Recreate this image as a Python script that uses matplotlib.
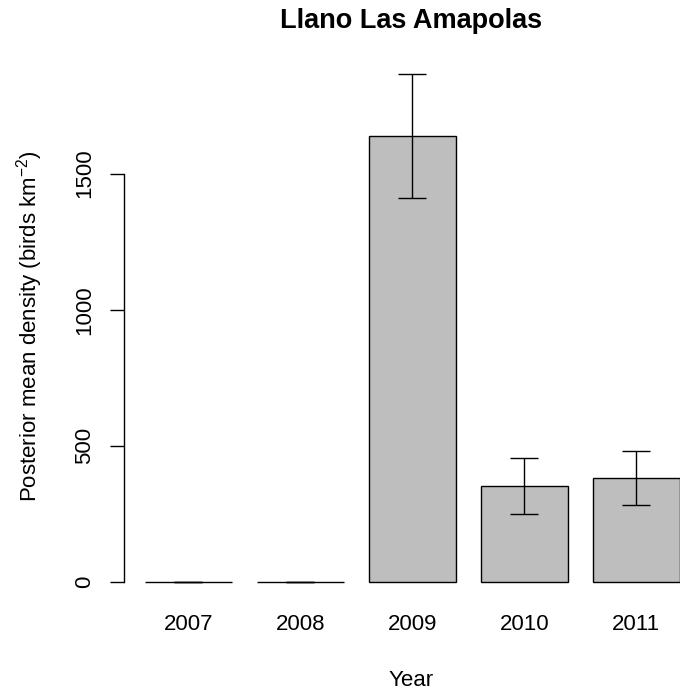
import matplotlib
matplotlib.use("Agg")
import matplotlib.pyplot as plt
import numpy as np

plt.rcParams['font.family'] = ['Liberation Sans', 'DejaVu Sans']
plt.rcParams['mathtext.fontset'] = 'custom'
plt.rcParams['mathtext.rm'] = 'Liberation Sans'
plt.rcParams['mathtext.it'] = 'Liberation Sans'

# Posterior mean density per year with credible interval bounds
years = ['2007', '2008', '2009', '2010', '2011']
density = [0, 0, 1639, 352, 381]
lower = [0, 0, 1409, 249, 282]
upper = [0, 0, 1867, 455, 480]

W, H = 680, 692
fig = plt.figure(figsize=(W / 100, H / 100), dpi=100)

# plot region in pixels (left, right, top, bottom)
left, right, top, bottom = 124, 698, 60, 600
ax = fig.add_axes([left / W, (H - bottom) / H, (right - left) / W, (bottom - top) / H])

x = np.arange(len(years))
dens = np.array(density)
yerr = np.array([dens - np.array(lower), np.array(upper) - dens])

ax.bar(x, dens, width=0.77, color='#bebebe', edgecolor='black', linewidth=1.0)
ax.errorbar(x, dens, yerr=yerr, fmt='none', ecolor='black', elinewidth=1.0,
            capsize=10, capthick=1.0)

ax.set_xlim(-0.575, 4.55)
ax.set_ylim(-66, 1917)

for s in ['top', 'right', 'bottom']:
    ax.spines[s].set_visible(False)
ax.spines['left'].set_bounds(0, 1500)
ax.spines['left'].set_linewidth(1.0)

fs = 16
ax.set_yticks([0, 500, 1000, 1500])
ax.set_yticklabels(['0', '500', '1000', '1500'], rotation=90, va='center', ha='right')
ax.tick_params(axis='y', length=10, width=1.0, pad=11, labelsize=fs)
ax.set_xticks(x)
ax.set_xticklabels(years)
ax.tick_params(axis='x', length=0, pad=10, labelsize=fs)

fig.text((left + right) / 2 / W, 1 - 28 / H, 'Llano Las Amapolas', ha='center',
         va='baseline', fontsize=19.5, fontweight='bold')
fig.text((left + right) / 2 / W, 1 - 686 / H, 'Year', ha='center', va='baseline',
         fontsize=fs)
fig.text(30 / W, 1 - 326 / H, r'Posterior mean density (birds km$^{-2}$)',
         rotation=90, ha='center', va='center', fontsize=fs)

fig.savefig('out.png', dpi=100)
